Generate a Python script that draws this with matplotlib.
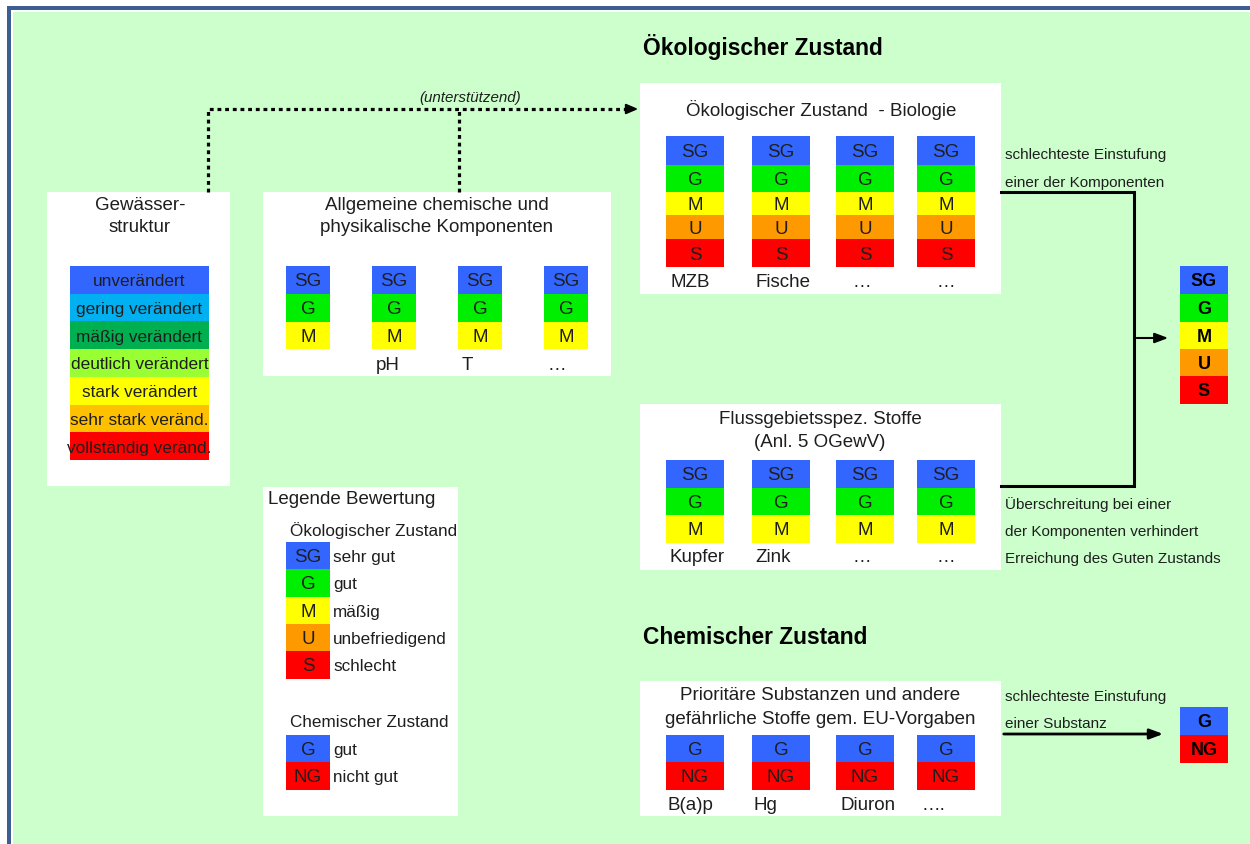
import matplotlib
matplotlib.use("Agg")
import matplotlib.pyplot as plt
from matplotlib.patches import Rectangle

plt.rcParams['font.family'] = ['Liberation Sans', 'DejaVu Sans']

# ---------------- data ----------------
eco_levels = ["SG", "G", "M", "U", "S"]
eco_colors = ["#3366FF", "#00EE00", "#FFFF00", "#FF9900", "#FF0000"]
eco_legend_labels = ["sehr gut", "gut", "mäßig", "unbefriedigend", "schlecht"]

chem_levels = ["G", "NG"]
chem_colors = ["#3366FF", "#FF0000"]
chem_legend_labels = ["gut", "nicht gut"]

struct_labels = ["unverändert", "gering verändert", "mäßig verändert",
                 "deutlich verändert", "stark verändert", "sehr stark veränd.",
                 "vollständig veränd."]
struct_colors = ["#3366FF", "#00B0F0", "#00B050", "#99FF33", "#FFFF00",
                 "#FFC000", "#FF0000"]

phys_components = ["", "pH", "T", "…"]
bio_components = ["MZB", "Fische", "…", "…"]
river_components = ["Kupfer", "Zink", "…", "…"]
prio_components = ["B(a)p", "Hg", "Diuron", "…."]

title_eco = "Ökologischer Zustand"
title_chem = "Chemischer Zustand"

# ---------------- layout ----------------
GREEN = "#CCFFCC"
BORDER = "#3C5E93"
TXT = "#1E1E1E"
FS_BOX = 13.5
FS_STACK = 13.5
FS_SIDE = 11
FS_LEG = 12.3

fig = plt.figure(figsize=(12.5, 8.45), dpi=100)
ax = fig.add_axes([0, 0, 1, 1])
ax.set_xlim(0, 1250)
ax.set_ylim(845, 0)
ax.axis('off')
fig.patch.set_facecolor("white")

ax.add_patch(Rectangle((7, 7), 1300, 900, facecolor=BORDER, edgecolor='none'))
ax.add_patch(Rectangle((11, 11), 1300, 900, facecolor="white", edgecolor='none'))
ax.add_patch(Rectangle((13, 13), 1300, 900, facecolor=GREEN, edgecolor='none'))


def box(x0, y0, x1, y1):
    ax.add_patch(Rectangle((x0, y0), x1 - x0, y1 - y0, facecolor="white",
                           edgecolor='none', zorder=1))


def stack(x0, x1, bounds, labels, colors, fs=FS_STACK, bold=False):
    heights = [b - a for a, b in zip(bounds[:-1], bounds[1:])]
    ax.bar([x0] * len(heights), heights, bottom=bounds[:-1], width=x1 - x0,
           align='edge', color=colors, edgecolor='none', zorder=2)
    for lab, a, b in zip(labels, bounds[:-1], bounds[1:]):
        ax.text((x0 + x1) / 2, (a + b) / 2 + 1, lab, ha='center', va='center',
                fontsize=fs, color="black" if bold else TXT,
                fontweight='bold' if bold else 'normal', zorder=3)


# ---- Gewässerstruktur ----
box(47, 193, 230, 487)
ax.text(140, 205, "Gewässer-", ha='center', va='center', fontsize=FS_BOX, color=TXT)
ax.text(140, 228, "struktur", ha='center', va='center', fontsize=FS_BOX, color=TXT)
sb = [267 + i * (461 - 267) / 7 for i in range(8)]
stack(70, 209, sb, struct_labels, struct_colors, fs=12.4)

# ---- Allgemeine chemische ... ----
box(263, 193, 611, 377)
ax.text(437, 205, "Allgemeine chemische und", ha='center', va='center', fontsize=FS_BOX, color=TXT)
ax.text(437, 228, "physikalische Komponenten", ha='center', va='center', fontsize=FS_BOX, color=TXT)
phys_x = [(286, 330), (372, 416), (458, 502), (544, 588)]
phys_label_x = [308, 388, 467, 557]
for (x0, x1), lab, lx in zip(phys_x, phys_components, phys_label_x):
    stack(x0, x1, [267, 295, 323, 350], eco_levels[:3], eco_colors[:3])
    ax.text(lx, 366, lab, ha='center', va='center', fontsize=FS_BOX, color=TXT)

# ---- dotted connector ----
dot = dict(color="black", lw=2.3, linestyle=(0, (1.2, 1.2)), zorder=2)
ax.plot([208, 208, 630], [193, 110, 110], **dot)
ax.plot([459, 459], [193, 110], **dot)
ax.annotate("", xy=(641, 110), xytext=(626, 110),
            arrowprops=dict(arrowstyle="-|>,head_length=0.7,head_width=0.3",
                            color="black", lw=1.5))
ax.text(470, 98, "(unterstützend)", ha='center', va='center', fontsize=10.9,
        style='italic', color=TXT)

# ---- Ökologischer Zustand ----
ax.text(643, 47, title_eco, ha='left', va='center', fontsize=16.4,
        fontweight='bold', color="black")

comp_x = [(666, 724), (752, 810), (836, 894), (917, 975)]

box(640, 84, 1001, 295)
ax.text(821, 110, "Ökologischer Zustand  - Biologie", ha='center', va='center',
        fontsize=FS_BOX, color=TXT)
bio_label_x = [690, 783, 862, 946]
for (x0, x1), lab, lx in zip(comp_x, bio_components, bio_label_x):
    stack(x0, x1, [137, 166, 193, 216, 240, 268], eco_levels, eco_colors)
    ax.text(lx, 283, lab, ha='center', va='center', fontsize=FS_BOX, color=TXT)

box(640, 405, 1001, 571)
ax.text(820, 420, "Flussgebietsspez. Stoffe", ha='center', va='center', fontsize=FS_BOX, color=TXT)
ax.text(820, 443, "(Anl. 5 OGewV)", ha='center', va='center', fontsize=FS_BOX, color=TXT)
river_label_x = [697, 773, 862, 946]
for (x0, x1), lab, lx in zip(comp_x, river_components, river_label_x):
    stack(x0, x1, [461, 489, 516, 544], eco_levels[:3], eco_colors[:3])
    ax.text(lx, 558, lab, ha='center', va='center', fontsize=FS_BOX, color=TXT)

# connectors on the right
ax.plot([1001, 1134, 1134, 1001], [193, 193, 487, 487], color="black", lw=2.2,
        solid_joinstyle='miter', zorder=2)
ax.annotate("", xy=(1171, 339), xytext=(1134, 339),
            arrowprops=dict(arrowstyle="-|>,head_length=0.8,head_width=0.3",
                            color="black", lw=1.5))
ax.text(1005, 155, "schlechteste Einstufung", ha='left', va='center', fontsize=FS_SIDE, color=TXT)
ax.text(1005, 183, "einer der Komponenten", ha='left', va='center', fontsize=FS_SIDE, color=TXT)
ax.text(1005, 505, "Überschreitung bei einer", ha='left', va='center', fontsize=FS_SIDE, color=TXT)
ax.text(1005, 532, "der Komponenten verhindert", ha='left', va='center', fontsize=FS_SIDE, color=TXT)
ax.text(1005, 559, "Erreichung des Guten Zustands", ha='left', va='center', fontsize=FS_SIDE, color=TXT)

stack(1180, 1228, [267, 295, 323, 350, 377, 405], eco_levels, eco_colors,
      fs=13, bold=True)

# ---- Chemischer Zustand ----
ax.text(643, 638, title_chem, ha='left', va='center', fontsize=16.4,
        fontweight='bold', color="black")
box(640, 682, 1001, 817)
ax.text(820, 696, "Prioritäre Substanzen und andere", ha='center', va='center', fontsize=FS_BOX, color=TXT)
ax.text(820, 720, "gefährliche Stoffe gem. EU-Vorgaben", ha='center', va='center', fontsize=FS_BOX, color=TXT)
prio_label_x = [690, 765, 868, 933]
for (x0, x1), lab, lx in zip(comp_x, prio_components, prio_label_x):
    stack(x0, x1, [736, 763, 791], chem_levels, chem_colors)
    ax.text(lx, 806, lab, ha='center', va='center', fontsize=FS_BOX, color=TXT)

ax.annotate("", xy=(1166, 735), xytext=(1001, 735),
            arrowprops=dict(arrowstyle="-|>,head_length=0.8,head_width=0.3",
                            color="black", lw=2))
ax.text(1005, 697, "schlechteste Einstufung", ha='left', va='center', fontsize=FS_SIDE, color=TXT)
ax.text(1005, 724, "einer Substanz", ha='left', va='center', fontsize=FS_SIDE, color=TXT)
stack(1180, 1228, [708, 736, 764], chem_levels, chem_colors, fs=13, bold=True)

# ---- Legende ----
box(263, 488, 458, 817)
ax.text(268, 500, "Legende Bewertung", ha='left', va='center', fontsize=FS_BOX, color=TXT)
ax.text(290, 531, title_eco, ha='left', va='center', fontsize=FS_LEG, color=TXT)
leb = [543, 570, 598, 625, 652, 680]
stack(286, 330, leb, eco_levels, eco_colors)
for lab, a, b in zip(eco_legend_labels, leb[:-1], leb[1:]):
    ax.text(333, (a + b) / 2 + 1, lab, ha='left', va='center', fontsize=FS_LEG, color=TXT)
ax.text(290, 723, title_chem, ha='left', va='center', fontsize=FS_LEG, color=TXT)
lcb = [736, 763, 791]
stack(286, 330, lcb, chem_levels, chem_colors)
for lab, a, b in zip(chem_legend_labels, lcb[:-1], lcb[1:]):
    ax.text(333, (a + b) / 2 + 1, lab, ha='left', va='center', fontsize=FS_LEG, color=TXT)

fig.savefig("out.png", dpi=100)
